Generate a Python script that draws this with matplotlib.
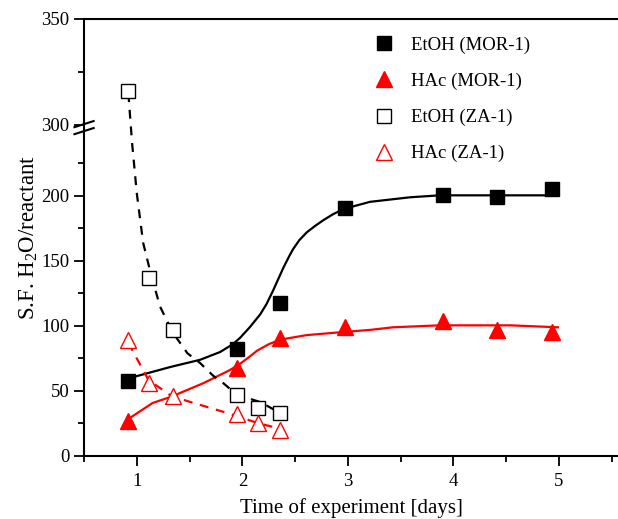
import numpy as np
import matplotlib
matplotlib.use("Agg")
import matplotlib.pyplot as plt
from matplotlib.ticker import FixedLocator

plt.rcParams["font.family"] = ["Liberation Serif", "DejaVu Serif"]
plt.rcParams["mathtext.fontset"] = "custom"
plt.rcParams["mathtext.rm"] = "Liberation Serif"
plt.rcParams["mathtext.it"] = "Liberation Serif:italic"

# measured points
etoh_mor_x = [0.92, 1.95, 2.36, 2.97, 3.90, 4.41, 4.93]
etoh_mor_y = [58, 82, 118, 191, 201, 199, 205]
hac_mor_x = [0.92, 1.95, 2.36, 2.97, 3.90, 4.41, 4.93]
hac_mor_y = [27, 68, 91, 99, 104, 97, 95]
etoh_za_x = [0.92, 1.12, 1.34, 1.95, 2.15, 2.36]
etoh_za_y = [316, 137, 97, 47, 37, 33]
hac_za_x = [0.92, 1.12, 1.34, 1.95, 2.15, 2.36]
hac_za_y = [89, 56, 46, 32, 25, 20]

# fitted curves
fit_etoh_mor_x = [0.92, 0.98, 1.32, 1.60, 1.79, 1.91, 1.98, 2.07, 2.17, 2.23, 2.29,
                  2.34, 2.39, 2.44, 2.48, 2.54, 2.61, 2.69, 2.77, 2.86, 2.96, 3.21,
                  3.59, 3.87, 4.92]
fit_etoh_mor_y = [59, 61, 68.5, 74, 80, 86, 91, 99, 109, 117, 127,
                  136, 145, 153, 159, 166, 172, 177, 181.5, 186, 190, 195.5,
                  199, 200.5, 200.5]
fit_hac_mor_x = [0.93, 1.15, 1.32, 1.63, 1.88, 1.98, 2.07, 2.14, 2.25, 2.36, 2.61,
                 2.96, 3.21, 3.43, 3.87, 4.54, 4.99]
fit_hac_mor_y = [29, 40.8, 45.4, 56, 66, 71, 76.5, 81, 86, 89.5, 93,
                 95.4, 97, 99, 100.5, 100.5, 99]
fit_etoh_za_x = [0.92, 0.955, 1.0, 1.06, 1.13, 1.22, 1.34, 1.48, 1.60, 1.72, 1.82,
                 1.95, 2.17, 2.36]
fit_etoh_za_y = [315, 241, 202, 164, 141, 115, 95, 79, 71.5, 62, 56,
                 47, 41.5, 33]
fit_hac_za_x = [0.92, 1.11, 1.33, 1.53, 1.86, 2.14, 2.33]
fit_hac_za_y = [87, 58.5, 46, 41, 33, 25.5, 21.5]

# broken y axis: 0..~255 below, 300..350 above (upper part stretched)
B = 254.6
K = 2.12 / 1.3


def fwd(y):
    y = np.asarray(y, dtype=float)
    return np.where(y <= B, y, B + np.clip(y - 300, 0, None) * K)


def inv(z):
    z = np.asarray(z, dtype=float)
    return np.where(z <= B, z, 300 + (z - B) / K)


fig = plt.figure(figsize=(6.18, 5.19), dpi=100)
ax = fig.add_axes([0.136, 0.1214, 0.864, 0.8420])
ax.set_yscale("function", functions=(fwd, inv))

ax.plot(fit_etoh_mor_x, fit_etoh_mor_y, "-", color="black", lw=1.6)
ax.plot(fit_hac_mor_x, fit_hac_mor_y, "-", color="red", lw=1.6)
ax.plot(fit_etoh_za_x, fit_etoh_za_y, "--", color="black", lw=1.6, dashes=(4, 3.5))
ax.plot(fit_hac_za_x, fit_hac_za_y, "--", color="red", lw=1.6, dashes=(4, 3.5))

ax.plot(etoh_mor_x, etoh_mor_y, "s", color="black", ms=10, label="EtOH (MOR-1)")
ax.plot(hac_mor_x, hac_mor_y, "^", color="red", ms=11.5, label="HAc (MOR-1)")
ax.plot(etoh_za_x, etoh_za_y, "s", mfc="white", mec="black", mew=1.0, ms=10,
        label="EtOH (ZA-1)")
ax.plot(hac_za_x, hac_za_y, "^", mfc="white", mec="red", mew=1.0, ms=11.5,
        label="HAc (ZA-1)")

ax.set_xlim(0.5, 5.56)
ax.set_ylim(0, 350)
ax.xaxis.set_major_locator(FixedLocator([1, 2, 3, 4, 5]))
ax.xaxis.set_minor_locator(FixedLocator([0.5, 1.5, 2.5, 3.5, 4.5, 5.5]))
ax.yaxis.set_major_locator(FixedLocator([0, 50, 100, 150, 200, 300, 350]))
ax.yaxis.set_minor_locator(FixedLocator([25, 75, 125, 175, 225, 325]))
ax.tick_params(which="both", direction="out", width=1.3, labelsize=13.5)
ax.tick_params(which="major", length=7)
ax.tick_params(which="minor", length=4.5)
ax.tick_params(axis="x", pad=5)

ax.spines["right"].set_visible(False)
for s in ["left", "bottom", "top"]:
    ax.spines[s].set_linewidth(1.5)

# break marks on the y axis
yb = 1 - (125 - 19) / 437.0
for off in (0.0, -0.016):
    ax.plot([-0.018, 0.018], [yb + off - 0.005, yb + off + 0.009],
            transform=ax.transAxes, color="black", lw=1.5, clip_on=False)

ax.set_xlabel("Time of experiment [days]", fontsize=15, labelpad=6)
ax.set_ylabel("S.F. H$_2$O/reactant", fontsize=16.5, labelpad=1)

ax.legend(loc="upper left", bbox_to_anchor=(0.517, 0.998), frameon=False,
          fontsize=13.5, handlelength=0.8, handletextpad=1.0, labelspacing=1.0,
          numpoints=1)

fig.savefig("out.png", dpi=100)
